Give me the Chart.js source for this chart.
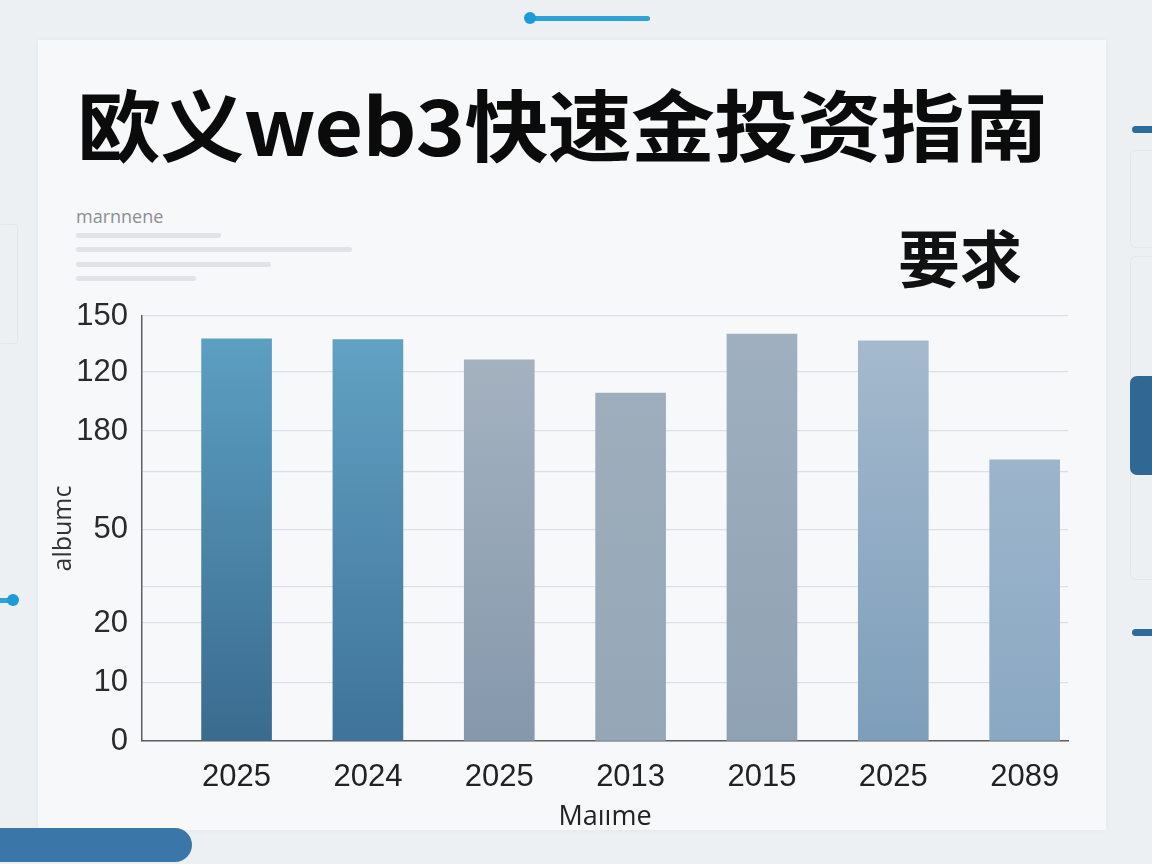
<!DOCTYPE html>
<html>
<head>
<meta charset="utf-8">
<script src="https://cdn.jsdelivr.net/npm/chart.js@4.4.1/dist/chart.umd.min.js"></script>
<style>
    body { margin: 0; width: 1152px; height: 864px; overflow: hidden; background: #edf0f3; position: relative; font-family: "Liberation Sans", sans-serif; }
    .deco { position: absolute; }
    #painel { left: 38px; top: 40px; width: 1068px; height: 790px; background: #f7f8fa; box-shadow: 0 0 6px rgba(0,0,0,0.04); }
    #titulo { position: absolute; left: 77px; top: 62px; font-family: "Noto Sans CJK SC", sans-serif; font-weight: 700; font-size: 84px; color: #0b0b0b; white-space: nowrap; letter-spacing: -0.8px; transform: scaleY(0.93); transform-origin: left center; }
    #subtitulo { position: absolute; left: 898px; top: 211px; font-family: "Noto Sans CJK SC", sans-serif; font-weight: 700; font-size: 62px; color: #111; }
    #legenda { position: absolute; left: 76px; top: 204px; font-family: "Open Sans", sans-serif; font-size: 18px; color: #8b8f95; }
    .linha { position: absolute; left: 76px; height: 5px; background: #e1e3e6; border-radius: 2px; }
    #grafico { position: absolute; left: 0; top: 0; }
</style>
</head>
<body>
<div class="deco" id="painel"></div>
<div class="deco" style="left:0;top:224px;width:17px;height:118px;border:1px solid #e4e7ea;border-left:none;border-radius:0 4px 4px 0;"></div>
<div class="deco" style="left:1130px;top:150px;width:30px;height:96px;border:1px solid #e3e6ea;border-radius:5px;"></div>
<div class="deco" style="left:1130px;top:256px;width:30px;height:322px;border:1px solid #e3e6ea;border-radius:5px;"></div>
<div class="deco" style="left:1130px;top:376px;width:30px;height:99px;background:#2f6893;border-radius:7px;"></div>
<div class="deco" style="left:1132px;top:126px;width:30px;height:7px;background:#2c6b9c;border-radius:4px;"></div>
<div class="deco" style="left:1132px;top:629px;width:30px;height:7px;background:#2c6b9c;border-radius:4px;"></div>
<div class="deco" style="left:528px;top:16px;width:122px;height:5px;background:#2ba3d8;border-radius:3px;"></div>
<div class="deco" style="left:524px;top:12px;width:12px;height:12px;background:#1e9ad6;border-radius:50%;"></div>
<div class="deco" style="left:-4px;top:598px;width:18px;height:5px;background:#2ba3d8;border-radius:3px;"></div>
<div class="deco" style="left:7px;top:594px;width:12px;height:12px;background:#1e9ad6;border-radius:50%;"></div>
<div class="deco" style="left:-20px;top:828px;width:212px;height:34px;background:#3a77a8;border-radius:17px;"></div>

<div id="titulo">欧义web3快速金投资指南</div>
<div id="subtitulo">要求</div>
<div id="legenda">marnnene</div>
<div class="linha" style="top:233px;width:145px;"></div>
<div class="linha" style="top:247px;width:276px;"></div>
<div class="linha" style="top:262px;width:195px;"></div>
<div class="linha" style="top:276px;width:120px;"></div>

<canvas id="grafico" width="1152" height="864"></canvas>

<script>
const anos = ["2025", "2024", "2025", "2013", "2015", "2025", "2089"];
const valores = [141.9, 141.7, 134.5, 122.8, 143.6, 141.2, 99.2];
const linhasGrade = [0, 20.5, 41.6, 54.4, 74.5, 94.9, 109.4, 130.2, 150];
const rotulosY = ["0", "10", "20", "", "50", "", "180", "120", "150"];

const coresTopo = ["#5ea2c4", "#64a4c5", "#a8b5c2", "#a0afbd", "#a0b0bf", "#a7bbce", "#a5bbcf"];
const coresBase = ["#3a6b8f", "#3f7399", "#8598ac", "#95a7b7", "#8fa2b3", "#7d9ebb", "#8aa8c3"];

const graficoBarra = document.getElementById("grafico");

function gradienteBarra(ctx) {
    const chart = ctx.chart;
    const area = chart.chartArea;
    if (!area) return coresTopo[ctx.dataIndex];
    const el = ctx.element;
    const topo = el && el.y !== undefined && !isNaN(el.y) ? el.y : area.top;
    const g = chart.ctx.createLinearGradient(0, topo, 0, area.bottom);
    g.addColorStop(0, coresTopo[ctx.dataIndex]);
    g.addColorStop(1, coresBase[ctx.dataIndex]);
    return g;
}

const chartBarra = new Chart(graficoBarra, {
    type: "bar",
    data: {
        datasets: [{
            label: "album",
            data: valores.map((v, i) => ({ x: i, y: v })),
            backgroundColor: gradienteBarra,
            borderWidth: 0,
            barThickness: 70
        }]
    },
    options: {
        responsive: false,
        animation: false,
        layout: {
            padding: { left: 49, right: 84, top: 316, bottom: 26 }
        },
        plugins: {
            legend: { display: false },
            tooltip: { enabled: false }
        },
        scales: {
            x: {
                type: "linear",
                offset: false,
                min: -0.72,
                max: 6.33,
                afterBuildTicks: (scale) => {
                    scale.ticks = anos.map((a, i) => ({ value: i }));
                },
                afterFit: (scale) => { scale.height = 864 - 741 - 26; },
                grid: { display: false, drawTicks: false, offset: false },
                border: { display: true, color: "#5d5f62", width: 1.5 },
                ticks: {
                    autoSkip: false,
                    maxRotation: 0,
                    padding: 18,
                    color: "#222",
                    font: { family: "Liberation Sans", size: 31 },
                    callback: (v, i) => anos[i]
                },
                title: {
                    display: true,
                    text: "Maııme",
                    color: "#222",
                    font: { family: "Open Sans", size: 27 },
                    padding: { top: 2, bottom: 4 }
                }
            },
            y: {
                min: 0,
                max: 150,
                afterBuildTicks: (scale) => {
                    scale.ticks = linhasGrade.map(v => ({ value: v }));
                },
                afterFit: (scale) => { scale.width = 142 - 49; },
                grid: { color: "#dddfe3", lineWidth: 1.3, drawTicks: false },
                border: { display: true, color: "#5d5f62", width: 1.5 },
                ticks: {
                    autoSkip: false,
                    padding: 14,
                    color: "#2a2a2a",
                    font: { family: "Liberation Sans", size: 31 },
                    callback: (v, i) => rotulosY[i]
                },
                title: {
                    display: true,
                    text: "albumc",
                    color: "#333",
                    font: { family: "Open Sans", size: 25 },
                    padding: { top: 0, bottom: 0 }
                }
            }
        }
    }
});
</script>
</body>
</html>
